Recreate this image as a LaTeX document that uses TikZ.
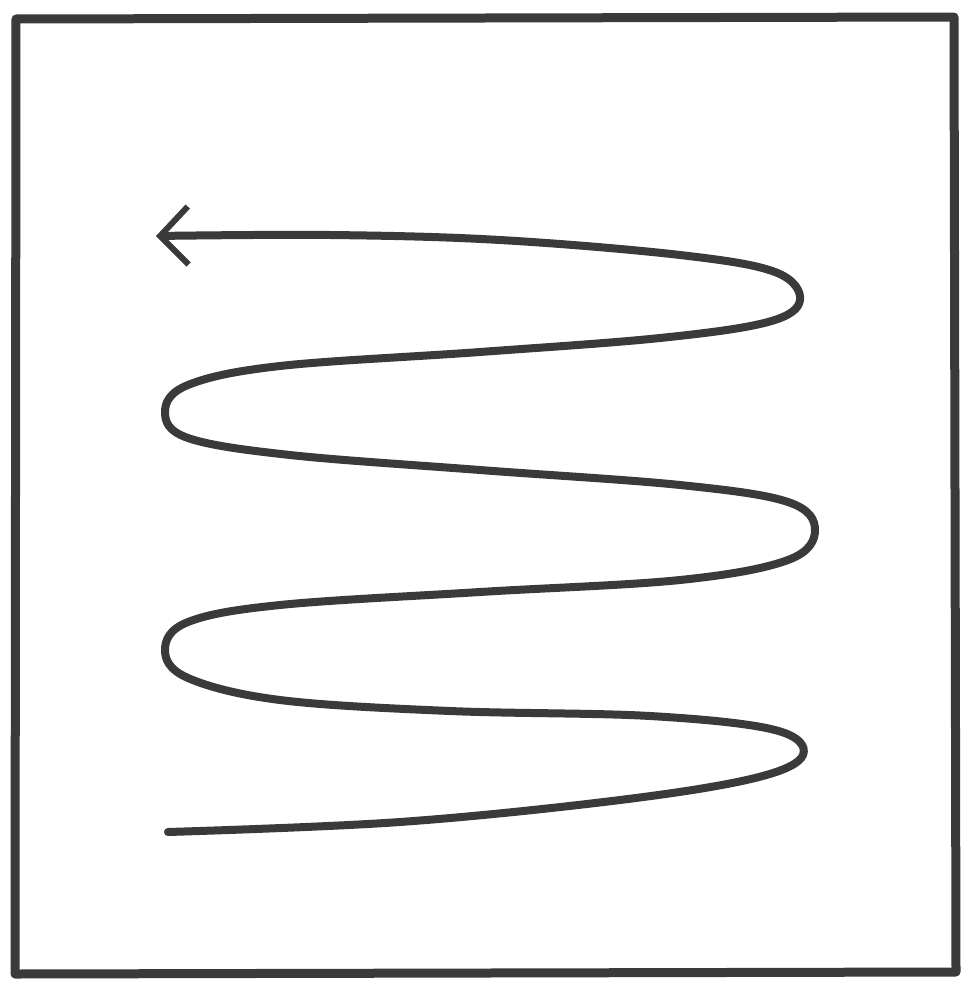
\documentclass[tikz,border=0pt]{standalone}
\usetikzlibrary{arrows.meta}
\definecolor{ink}{HTML}{3A3A3A}
\tikzset{
  frame/.style={draw=ink, line width=9pt, line join=round},
  spiral/.style={draw=ink, line width=8pt, line cap=round, line join=round,
    -{Straight Barb[length=28pt, width=58pt, line width=6pt]}}
}
\begin{document}
\begin{tikzpicture}[x=1pt,y=-1pt]
\useasboundingbox[fill=white] (0,0) rectangle (968,985);
\draw[frame] (16,19) -- (954,17) -- (956,972) -- (15,974) -- cycle;
\draw[spiral] plot[smooth, tension=0.6] coordinates {
 (168,832) (400,822) (620,800) (755,778) (803,755) (775,730) (650,716)
 (450,711) (280,700) (188,678) (165,650) (188,622) (280,605) (480,592)
 (680,580) (788,560) (815,530) (788,502) (680,485) (480,470) (290,455)
 (188,438) (165,412) (188,385) (280,366) (480,352) (660,338) (768,322)
 (800,300) (775,272) (680,255) (500,240) (330,235) (156,236)};
\end{tikzpicture}
\end{document}
